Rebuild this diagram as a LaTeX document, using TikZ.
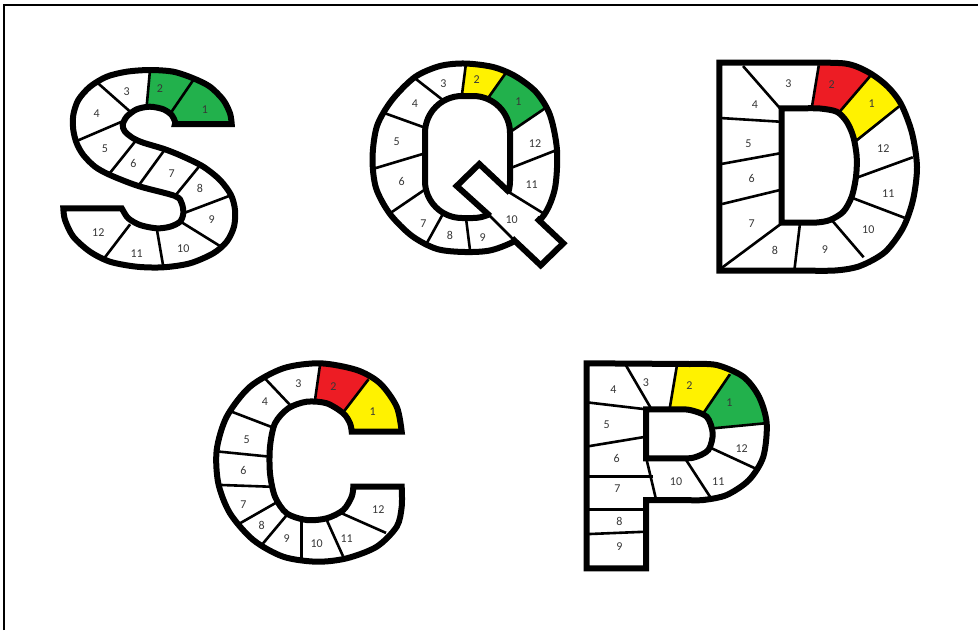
\documentclass[tikz,border=0pt]{standalone}
\usepackage{fontspec}
\setmainfont{Carlito}
\usepackage{tikz}

\definecolor{boardgreen}{RGB}{34,177,76}
\definecolor{boardyellow}{RGB}{255,242,0}
\definecolor{boardred}{RGB}{237,28,36}
\definecolor{numgray}{RGB}{55,55,55}

% letter contours, used once to clip and once to draw
\newcommand{\shapeS}{(175,124) -- plot[smooth] coordinates {(231.7,124) (230,113.3) (223.3,100) (210,86.7) (193.3,78.3) (173.3,71.7) (150,70) (126.7,71.7) (106.7,76.7) (90,86.7) (78.3,100) (73.3,115) (73.3,130) (76.7,143.3) (83.3,155) (95,166.7) (110,175) (138.3,186) (175,196) (181.7,203.3) (183.3,213.3) (180,221.7) (170,226.7) (156.7,228.3) (140,225) (128.3,218.3) (122.7,210) (121.7,208.3)} -- plot[smooth] coordinates {(63.3,208.3) (65,220) (73.3,236.7) (90,251.7) (110,261.7) (136.7,266.7) (163.3,267.3) (190,263.3) (213.3,253.3) (226.7,241.7) (234,226.7) (235,210) (231,195) (220,180) (203.3,166.7) (183.3,156.7) (165,149.3) (143.3,142.7) (133.3,138.3) (125,131.7) (122.7,125) (126.7,116.7) (136.7,109.3) (150,106.7) (163.3,109.3) (171.7,115) (175,121.7) (175,124)} -- cycle}
\newcommand{\shapeC}{(351.7,431.7) -- plot[smooth] coordinates {(401.7,431.7) (396.7,406.7) (380,383.3) (356.7,370) (320,363.3) (283.3,368.3) (250,386.7) (226.7,416.7) (216.7,450) (218.3,483.3) (230,513.3) (253.3,540) (283.3,556.7) (316.7,561.7) (346.7,558.3) (376.7,546.7) (396.7,526.7) (401.7,506.7) (401.7,486.7)} -- plot[smooth] coordinates {(353.3,486.7) (351.7,496.7) (343.3,510) (326.7,518.3) (306.7,520) (286.7,513.3) (275,496.7) (270,473.3) (270,446.7) (275,423.3) (288.3,408.3) (306.7,401.7) (326.7,403.3) (343.3,413.3) (350,423.3) (351.7,431.7)} -- cycle}
\newcommand{\outerD}{(719.3,62.7) -- plot[smooth] coordinates {(800,62.7) (845,63.5) (868,72) (887,86) (901,104) (912,133) (917,167) (913,200) (903,228) (885,252) (860,266) (835,270.5) (800,270.5)} -- (719.3,270.5) -- cycle}
\newcommand{\innerD}{(781.7,108.3) -- plot[smooth] coordinates {(805,108.3) (820,108.5) (836.7,111.7) (846.7,121.7) (853.3,136.7) (856.7,156.7) (856,176.7) (851.7,196.7) (843.3,211.7) (830,220) (816.7,222.5) (800,222.5)} -- (781.7,222.5) -- cycle}
\newcommand{\outerP}{(586.7,363.3) -- plot[smooth] coordinates {(690,364) (716.7,365) (743.3,376.7) (759,396.7) (766.7,423.3) (763.3,456.7) (749,480) (726.7,495) (703.3,500) (685,500)} -- (646,500) -- (646,568.3) -- (586.7,568.3) -- cycle}
\newcommand{\innerP}{(646,409.3) -- plot[smooth] coordinates {(675,409.3) (690,410) (706.7,416.7) (712.7,433.3) (708.3,450) (693.3,457.7) (675,458.3)} -- (646,458.3) -- cycle}
\newcommand{\ringQ}{plot[smooth cycle] coordinates {(465,63.5) (493,67) (515,76) (536,92) (550,115) (557,150) (555,188) (544,215) (520,238) (492,250) (465,252) (437,249) (412,236) (390,214) (376,188) (372.5,158) (377,126) (392,100) (415,77) (440,66)}}
\newcommand{\counterQ}{[rounded corners=37pt] (425,96) rectangle (510,218)}

\begin{document}
\begin{tikzpicture}[
  x=1pt, y=-1pt,
  pageframe/.style={draw=black, line width=2.2pt},
  letteredge/.style={draw=black, line width=6pt},
  divider/.style={draw=black, line width=2.6pt, shorten <=-3pt, shorten >=-3pt},
  num/.style={font=\fontsize{12}{13}\selectfont, text=numgray, inner sep=0pt},
]
\useasboundingbox (0,0) rectangle (978,630);
\draw[pageframe] (4.3,630) -- (4.3,5) -- (978,5);

% ---- S ----
\begin{scope}
  \clip \shapeS;
  \fill[boardgreen] (160.4,128) -- (245,128) -- (245,55) -- (210.4,55) -- cycle;
  \fill[boardgreen] (145.1,123) -- (151.4,55) -- (210.4,55) -- (163.8,123) -- cycle;
  \draw[divider] (170,114) -- (193.3,80);     \draw[divider] (146.7,106) -- (150,70);
  \draw[divider] (128.3,110) -- (100,85);     \draw[divider] (121.7,121.7) -- (75,141.7);
  \draw[divider] (135,141.7) -- (108.3,175);  \draw[divider] (165,149.3) -- (138.3,186);
  \draw[divider] (201.7,163.3) -- (175,196);  \draw[divider] (183.3,213.3) -- (231.7,195);
  \draw[divider] (183.3,223.3) -- (218.3,245); \draw[divider] (156.7,228.3) -- (163.3,266.7);
  \draw[divider] (128.3,226.7) -- (106.7,255);
\end{scope}
\draw[letteredge] \shapeS;
\path (205,110) node[num] (s1) {1} (160,88.3) node[num] (s2) {2}
  (126.7,91.7) node[num] (s3) {3} (96.7,113.3) node[num] (s4) {4}
  (105,148.3) node[num] (s5) {5} (133.3,163.3) node[num] (s6) {6}
  (171.7,173.3) node[num] (s7) {7} (200,188.3) node[num] (s8) {8}
  (211.7,220) node[num] (s9) {9} (183.3,248.3) node[num] (s10) {10}
  (136.7,253.3) node[num] (s11) {11} (98.3,232.7) node[num] (s12) {12};

% ---- Q ----
\begin{scope}
  \clip \ringQ;
  \fill[boardyellow] (460,110) -- (467.7,50) -- (522,50) -- (479.6,110) -- cycle;
  \fill[boardgreen] (479.6,110) -- (522,50) -- (570,50) -- (570,91.3) -- (495,142.4) -- cycle;
  \draw[divider] (486.7,100) -- (506.7,71.7);  \draw[divider] (461.7,96.7) -- (466,63.3);
  \draw[divider] (445,101.7) -- (415,78.3);    \draw[divider] (426.7,128.3) -- (385,113.3);
  \draw[divider] (425,153.3) -- (375,168.3);   \draw[divider] (426.7,188.3) -- (390,213.3);
  \draw[divider] (443.3,213.3) -- (426.7,243.3); \draw[divider] (466,218.3) -- (470,250);
  \draw[divider] (510,168.3) -- (556.7,150);   \draw[divider] (508.3,133.3) -- (545,108.3);
\end{scope}
\fill[white] \counterQ;
\begin{scope}
  % everything but the tail
  \clip (0,0) -- (978,0) -- (978,630) -- (0,630) -- cycle
        (456.7,186) -- (540.7,265.3) -- (563.3,243.3) -- (479.3,164) -- cycle;
  \draw[letteredge] \ringQ;
  \draw[letteredge] \counterQ;
\end{scope}
\draw[letteredge] (490,216) -- (456.7,186) -- (479.3,164) -- (509.7,192.6);
\draw[letteredge, shorten <=-3pt, shorten >=-3pt] (538.7,220.1) -- (563.3,243.3) -- (540.7,265.3) -- (514.3,240.4);
\draw[divider] (490,216) -- (514.3,240.4);
\draw[divider] (509.7,192.6) -- (543.3,213.3);
\path (518.3,101.7) node[num] (q1) {1} (476.7,80) node[num] (q2) {2}
  (443.3,83.3) node[num] (q3) {3} (415,103.3) node[num] (q4) {4}
  (396.7,141.7) node[num] (q5) {5} (401.7,181.7) node[num] (q6) {6}
  (423.3,223.3) node[num] (q7) {7} (450,235) node[num] (q8) {8}
  (482.7,237.3) node[num] (q9) {9} (511.7,220) node[num] (q10) {10}
  (531.7,185) node[num] (q11) {11} (535,143.3) node[num] (q12) {12};

% ---- D ----
\begin{scope}
  \clip \outerD;
  \fill[boardred] (810.1,118) -- (820.5,55) -- (888.3,55) -- (834.3,118) -- cycle;
  \fill[boardyellow] (834.3,118) -- (888.3,55) -- (930,55) -- (930,81.6) -- (845,149.7) -- cycle;
  \draw[divider] (780,108.3) -- (745,68.3);    \draw[divider] (811.7,108.3) -- (818.3,68.3);
  \draw[divider] (838.3,113.3) -- (868.3,78.3); \draw[divider] (855,141.7) -- (896.7,108.3);
  \draw[divider] (855,178.3) -- (910,158.3);   \draw[divider] (853.3,198.3) -- (901.7,216.7);
  \draw[divider] (831.7,220) -- (861.7,255);   \draw[divider] (800,223.3) -- (795,265);
  \draw[divider] (781.7,223.3) -- (723.3,266.7); \draw[divider] (780,190) -- (725,203.3);
  \draw[divider] (780,153.3) -- (725,163.3);   \draw[divider] (780,121.7) -- (725,118.3);
\end{scope}
\fill[white] \innerD;
\draw[letteredge] \outerD;
\draw[letteredge] \innerD;
\path (871.7,103.3) node[num] (d1) {1} (831.7,85) node[num] (d2) {2}
  (788.3,83.3) node[num] (d3) {3} (755,105) node[num] (d4) {4}
  (748.3,143.3) node[num] (d5) {5} (751.7,178.3) node[num] (d6) {6}
  (751.7,223.3) node[num] (d7) {7} (775,250) node[num] (d8) {8}
  (825,250) node[num] (d9) {9} (868.3,230) node[num] (d10) {10}
  (888.3,193.3) node[num] (d11) {11} (883.3,148.3) node[num] (d12) {12};

% ---- C ----
\begin{scope}
  \clip \shapeC;
  \fill[boardyellow] (325,436) -- (410,436) -- (410,370) -- (375.7,370) -- cycle;
  \fill[boardred] (310.7,430) -- (321.4,355) -- (387.2,355) -- (329.7,430) -- cycle;
  \draw[divider] (345,410) -- (366.7,381.7);   \draw[divider] (315,400) -- (320,365);
  \draw[divider] (291.7,406.7) -- (263.3,376.7); \draw[divider] (275,428.3) -- (231.7,411.7);
  \draw[divider] (270,456.7) -- (220,451.7);   \draw[divider] (270,486.7) -- (221.7,485);
  \draw[divider] (275,503.3) -- (240,523.3);   \draw[divider] (288.3,513.3) -- (261.7,545);
  \draw[divider] (301.7,520) -- (301.7,555);   \draw[divider] (326.7,520) -- (341.7,553.3);
  \draw[divider] (341.7,513.3) -- (383.3,531.7);
\end{scope}
\draw[letteredge] \shapeC;
\path (372.7,411.7) node[num] (c1) {1} (333.3,386.7) node[num] (c2) {2}
  (298.3,383.3) node[num] (c3) {3} (265,401.7) node[num] (c4) {4}
  (246.7,440) node[num] (c5) {5} (243.3,470) node[num] (c6) {6}
  (243.3,505) node[num] (c7) {7} (261.7,525) node[num] (c8) {8}
  (286.7,538.3) node[num] (c9) {9} (316.7,544) node[num] (c10) {10}
  (346.7,538.3) node[num] (c11) {11} (378.3,510) node[num] (c12) {12};

% ---- P ----
\begin{scope}
  \clip \outerP;
  \fill[boardyellow] (668.6,415) -- (678.7,355) -- (743.1,355) -- (698.7,420) -- cycle;
  \fill[boardgreen] (698.7,420) -- (743.1,355) -- (780,355) -- (780,421.9) -- (700,429.6) -- cycle;
  \draw[divider] (650,406.7) -- (626.7,366.7); \draw[divider] (670,406.7) -- (676.7,366.7);
  \draw[divider] (703.3,413.3) -- (728.3,376.7); \draw[divider] (713.3,428.3) -- (765,423.3);
  \draw[divider] (711.7,448.3) -- (755,468.3); \draw[divider] (685,458.3) -- (710,496.7);
  \draw[divider] (646.7,460) -- (656,499.3);   \draw[divider] (646,409.3) -- (590,402.7);
  \draw[divider] (646,436.7) -- (590,446);     \draw[divider] (650,476.7) -- (590,476.7);
  \draw[divider] (646,509.3) -- (590,509.3);   \draw[divider] (646,531.7) -- (590,534);
\end{scope}
\fill[white] \innerP;
\draw[letteredge] \outerP;
\draw[letteredge] \innerP;
\path (729.3,402.7) node[num] (p1) {1} (689.3,386) node[num] (p2) {2}
  (646,382.7) node[num] (p3) {3} (613.3,389.3) node[num] (p4) {4}
  (606.7,425) node[num] (p5) {5} (616.7,458.3) node[num] (p6) {6}
  (617.3,488.3) node[num] (p7) {7} (619.3,521.7) node[num] (p8) {8}
  (619.3,546.7) node[num] (p9) {9} (676,481.7) node[num] (p10) {10}
  (718.3,481.7) node[num] (p11) {11} (741.7,448.3) node[num] (p12) {12};
\end{tikzpicture}
\end{document}
